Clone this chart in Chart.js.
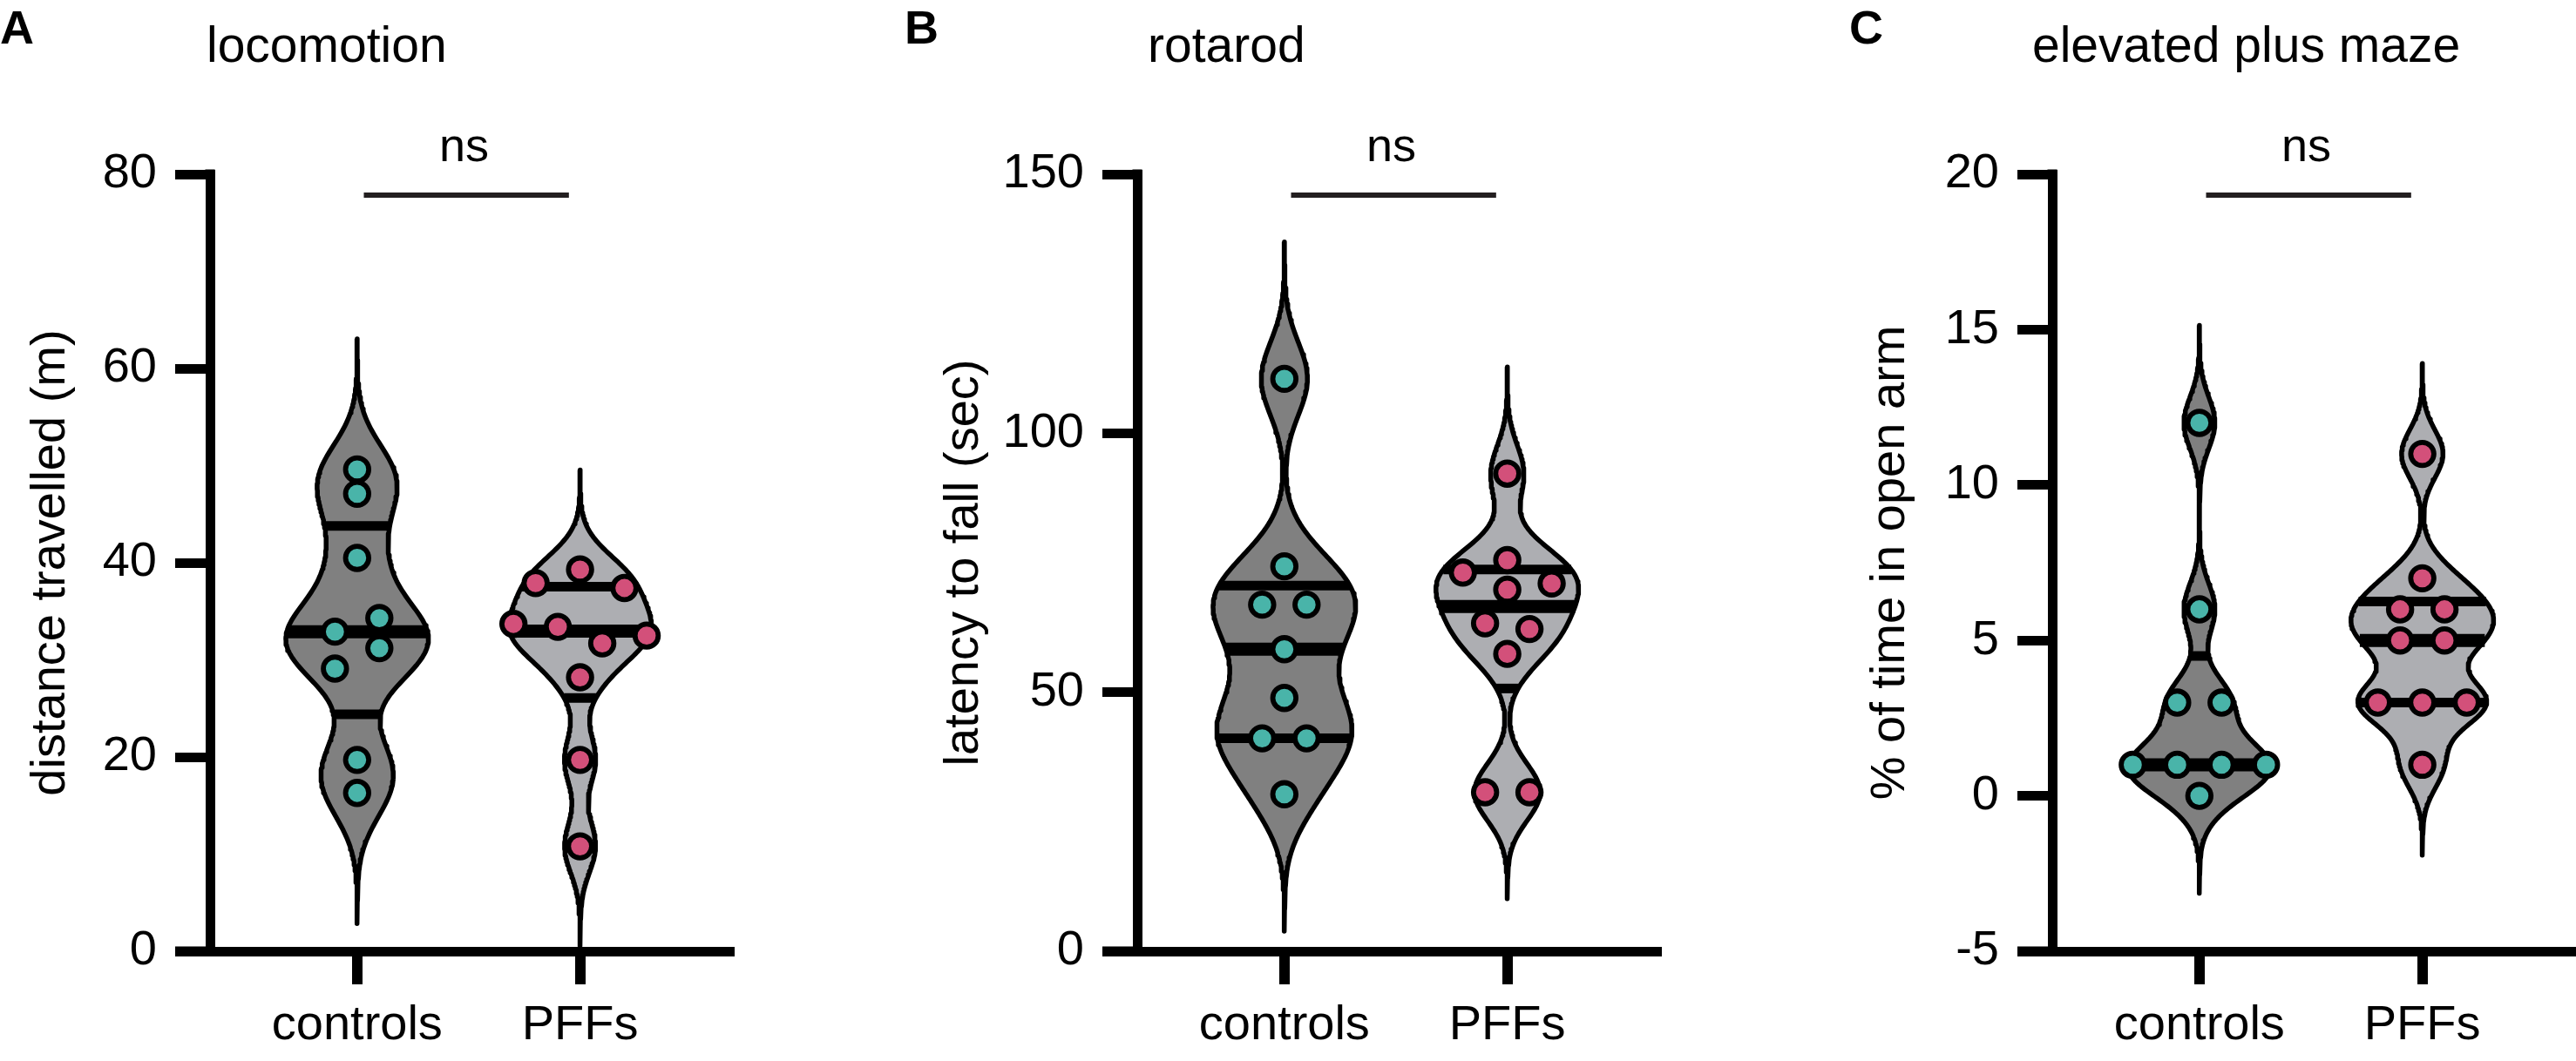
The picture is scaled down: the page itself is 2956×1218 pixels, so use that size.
<!DOCTYPE html>
<html>
<head>
<meta charset="utf-8">
<script src="https://cdn.jsdelivr.net/npm/chart.js@4.4.1/dist/chart.umd.min.js"></script>
<style>
  body { margin: 0; width: 2956px; height: 1218px; overflow: hidden; background: #fff; font-family: "Liberation Sans", Arial, sans-serif; }
  .panel { position: absolute; top: 0; width: 880px; height: 1218px; }
  .letter { position: absolute; top: 4px; font-size: 54px; line-height: 54px; font-weight: bold; }
  .title { position: absolute; top: 23px; font-size: 57px; line-height: 57px; }
</style>
</head>
<body>
<div class="letter" style="left:0px">A</div>
<div class="title" style="left:237px">locomotion</div>
<div class="letter" style="left:1038px">B</div>
<div class="title" style="left:1317px">rotarod</div>
<div class="letter" style="left:2122px">C</div>
<div class="title" style="left:2332px">elevated plus maze</div>

<div class="panel" style="left:0px"><canvas id="chartA"></canvas></div>
<div class="panel" style="left:1064px"><canvas id="chartB"></canvas></div>
<div class="panel" style="left:2114px"><canvas id="chartC"></canvas></div>

<script>
// groups on the x axis
const groups = ['controls', 'PFFs'];

// locomotion - distance travelled (m)
const locoControls = [49.6, 47.1, 40.5, 32.9, 34.3, 29.1, 31.2, 19.7, 16.3];
const locoPFFs = [39.3, 37.9, 37.4, 33.7, 33.4, 31.7, 32.5, 28.2, 19.7, 10.8];
const locoTicks = [0, 20, 40, 60, 80];

// rotarod - latency to fall (sec)
const rotaControls = [110.5, 74.3, 66.9, 66.9, 58.3, 48.9, 41.1, 41.1, 30.3];
const rotaPFFs = [92.2, 75.5, 73.1, 71.0, 69.8, 63.3, 62.2, 57.4, 30.7, 30.7];
const rotaTicks = [0, 50, 100, 150];

// elevated plus maze - % of time in open arm
const epmControls = [12, 6, 3, 3, 1, 1, 1, 1, 0];
const epmPFFs = [11, 7, 6, 6, 5, 5, 3, 3, 3, 1];
const epmTicks = [-5, 0, 5, 10, 15, 20];

const CTRL_FILL = '#808080';
const PFF_FILL = '#adaeb2';
const TEAL = '#49b4a9';
const PINK = '#d3507a';

// layout constants (pixels)
const PX_PER_X = 256, PLOT_H = 892;
const X_MIN = 0.34, X_MAX = 2.67;
const HALF_WIDTH = 0.32;     // widest part of a violin, in x units
const BW_SCALE = 0.32, TAIL = 3.75, STEPS = 300;
const ROW_TOL = 27, SPACING = 51;

Chart.defaults.font.family = '"Liberation Sans", Arial, sans-serif';
Chart.defaults.color = '#000';

// quartiles the way Prism does it, (n+1)p
function quantile(sorted, p) {
    const n = sorted.length;
    const pos = p * (n + 1);
    if (pos <= 1) return sorted[0];
    if (pos >= n) return sorted[n - 1];
    const i = Math.floor(pos);
    return sorted[i - 1] + (pos - i) * (sorted[i] - sorted[i - 1]);
}

// kernel density outline for one group
function violin(values, center) {
    const s = values.slice().sort((a, b) => a - b);
    const n = s.length;
    const mean = s.reduce((a, b) => a + b, 0) / n;
    const sd = Math.sqrt(s.reduce((a, v) => a + (v - mean) ** 2, 0) / (n - 1));
    const q1 = quantile(s, 0.25), med = quantile(s, 0.5), q3 = quantile(s, 0.75);
    const bw = BW_SCALE * Math.min(sd, (q3 - q1) / 1.34);
    const dens = y => s.reduce((a, v) => a + Math.exp(-0.5 * ((y - v) / bw) ** 2), 0);
    const lo = s[0] - TAIL * bw, hi = s[n - 1] + TAIL * bw;
    const ys = [];
    for (let i = 0; i <= STEPS; i++) ys.push(hi - (hi - lo) * i / STEPS);
    const maxD = Math.max(...ys.map(dens));
    const half = y => dens(y) / maxD * HALF_WIDTH;
    const right = ys.map(y => ({ x: center + half(y), y }));
    const left = ys.slice().reverse().map(y => ({ x: center - half(y), y }));
    return { outline: right.concat(left, [right[0]]), q1, med, q3, half };
}

// spread points that sit at about the same height side by side
function swarm(values, center, yRange) {
    const pxPerY = PLOT_H / yRange;
    const idx = values.map((v, i) => i).sort((a, b) => values[b] - values[a] || a - b);
    const rows = [];
    idx.forEach(i => {
        const row = rows[rows.length - 1];
        if (row && (values[row[0]] - values[i]) * pxPerY <= ROW_TOL) row.push(i);
        else rows.push([i]);
    });
    const pts = [];
    rows.forEach(row => {
        const first = row[0];
        const n = row.length;
        let slots = [];
        for (let k = 0; k < n; k++) slots.push(k - (n - 1) / 2);
        if (n % 2 === 1) slots = [0].concat(slots.filter(v => v !== 0));
        const order = n % 2 === 1 ? [first].concat(row.slice(1).sort((a, b) => a - b)) : row.slice().sort((a, b) => a - b);
        order.forEach((i, k) => pts.push({ x: center + slots[k] * SPACING / PX_PER_X, y: values[i] }));
    });
    return pts;
}

function panelDatasets(ctrl, pff, yRange) {
    const sets = [];
    [[ctrl, 1, CTRL_FILL, TEAL], [pff, 2, PFF_FILL, PINK]].forEach(([vals, c, fill, dot]) => {
        const v = violin(vals, c);
        sets.push({
            data: v.outline, showLine: true, fill: 'shape', backgroundColor: fill,
            borderColor: '#000', borderWidth: 5.5, borderJoinStyle: 'round', pointRadius: 0, order: 3
        });
        [[v.q1, 11], [v.q3, 11], [v.med, 15]].forEach(([q, w]) => {
            sets.push({
                data: [{ x: c - v.half(q), y: q }, { x: c + v.half(q), y: q }],
                showLine: true, borderColor: '#000', borderWidth: w, borderCapStyle: 'butt', pointRadius: 0, order: 2
            });
        });
        sets.push({
            data: swarm(vals, c, yRange), showLine: false,
            pointRadius: 13.3, pointBackgroundColor: dot, pointBorderColor: '#000', pointBorderWidth: 5.8, order: 1
        });
    });
    return sets;
}

// axis corner, left stub of the x axis, ns bracket
const decorPlugin = {
    id: 'decor',
    afterDraw(chart) {
        const { ctx, chartArea, scales: { x } } = chart;
        ctx.save();
        ctx.fillStyle = '#000';
        ctx.fillRect(chartArea.left - 40, chartArea.bottom - 5.5, 40, 11);
        ctx.fillRect(chartArea.left - 5.5, chartArea.top - 5.5, 11, 6);
        ctx.strokeStyle = '#231f20';
        ctx.lineWidth = 6;
        ctx.beginPath();
        ctx.moveTo(x.getPixelForValue(1.03), chartArea.top + 24);
        ctx.lineTo(x.getPixelForValue(1.95), chartArea.top + 24);
        ctx.stroke();
        ctx.font = '54px "Liberation Sans", Arial, sans-serif';
        ctx.textAlign = 'center';
        ctx.textBaseline = 'alphabetic';
        ctx.fillText('ns', x.getPixelForValue(1.48), chartArea.top - 15);
        ctx.restore();
    }
};

function makePanel(id, ctrl, pff, ticks, label, titlePad) {
    const yMin = ticks[0], yMax = ticks[ticks.length - 1];
    new Chart(document.getElementById(id), {
        type: 'scatter',
        data: { datasets: panelDatasets(ctrl, pff, yMax - yMin) },
        options: {
            responsive: true,
            maintainAspectRatio: false,
            animation: false,
            events: [],
            layout: { padding: { top: 200, left: 0, right: 43, bottom: 0 } },
            plugins: { legend: { display: false }, tooltip: { enabled: false } },
            scales: {
                x: {
                    type: 'linear', min: X_MIN, max: X_MAX,
                    afterBuildTicks: s => { s.ticks = [{ value: 1 }, { value: 2 }]; },
                    afterFit: s => { s.height = 126; },
                    ticks: { callback: v => groups[v - 1], font: { size: 56 }, padding: 14, color: '#000' },
                    grid: { drawOnChartArea: false, tickLength: 38, tickWidth: 12, lineWidth: 12, tickColor: '#000' },
                    border: { display: true, width: 11, color: '#000' }
                },
                y: {
                    min: yMin, max: yMax,
                    afterBuildTicks: s => { s.ticks = ticks.map(v => ({ value: v })); },
                    afterFit: s => { s.width = 241; },
                    ticks: { callback: v => String(v), font: { size: 56 }, padding: 21, color: '#000' },
                    grid: { drawOnChartArea: false, tickLength: 40, tickWidth: 11, lineWidth: 11, tickColor: '#000' },
                    border: { display: true, width: 11, color: '#000' },
                    title: { display: true, text: label, font: { size: 56 }, color: '#000', padding: { top: titlePad, bottom: 0 } }
                }
            }
        },
        plugins: [decorPlugin]
    });
}

makePanel('chartA', locoControls, locoPFFs, locoTicks, 'distance travelled (m)', 25);
makePanel('chartB', rotaControls, rotaPFFs, rotaTicks, 'latency to fall (sec)', 9);
makePanel('chartC', epmControls, epmPFFs, epmTicks, '% of time in open arm', 22);
</script>
</body>
</html>
